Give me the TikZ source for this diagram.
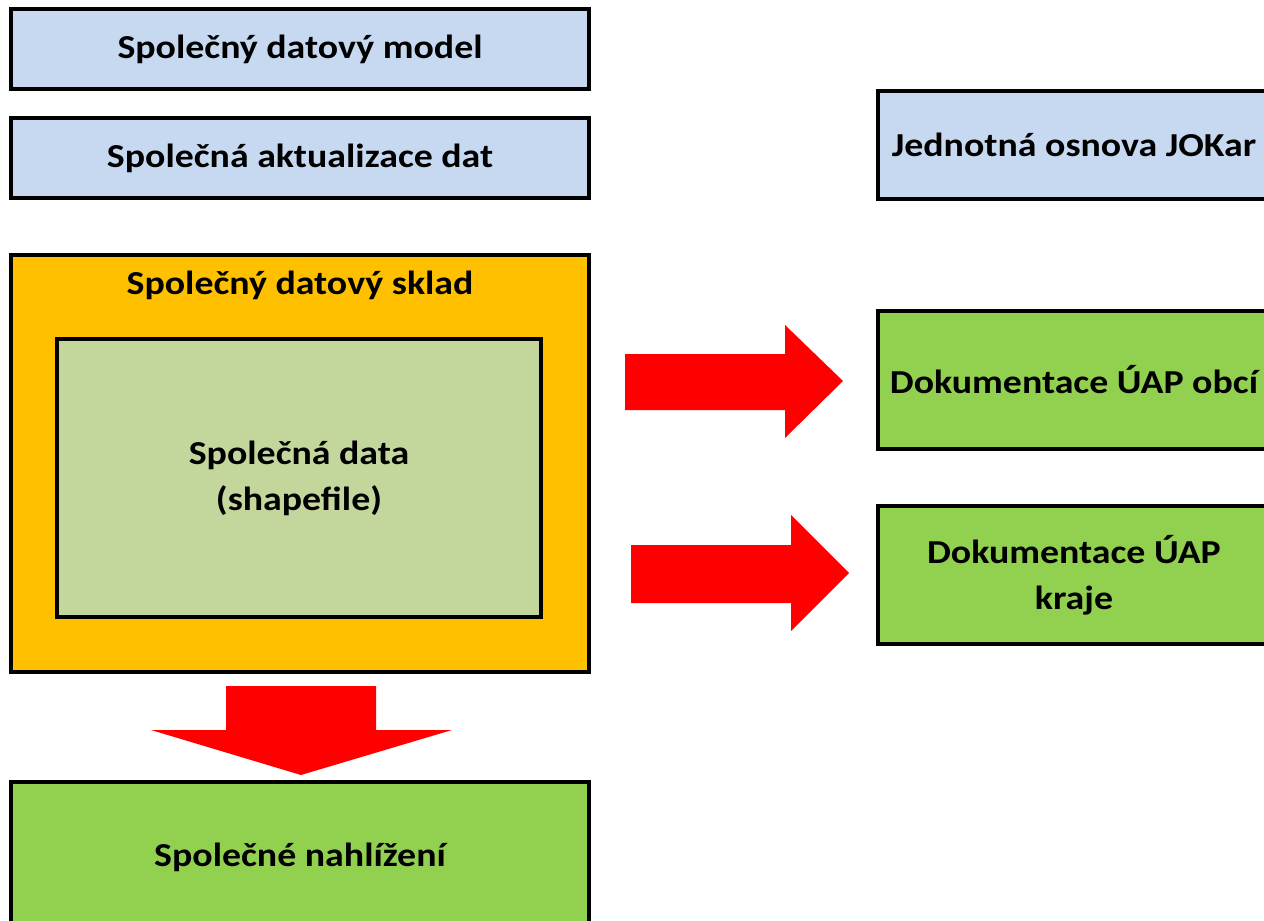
\documentclass[tikz,border=0pt]{standalone}
\usepackage{fontspec}
\setmainfont{Carlito}[FakeStretch=1.13]
\definecolor{cblue}{HTML}{C6D9F1}
\definecolor{corange}{HTML}{FFC000}
\definecolor{cinner}{HTML}{C3D69B}
\definecolor{cgreen}{HTML}{92D050}
\definecolor{cred}{HTML}{FF0000}
\begin{document}
\begin{tikzpicture}[x=1pt,y=-1pt,
  boxstyle/.style={draw=black, line width=4pt, inner sep=0pt, align=center,
    font=\bfseries\fontsize{33.5}{46}\selectfont},
  labelstyle/.style={inner sep=0pt, align=center, font=\bfseries\fontsize{33.5}{46}\selectfont},
  bigarrow/.style={fill=cred, draw=none}]
\useasboundingbox (0,0) rectangle (1264,921);
\clip (0,0) rectangle (1264,921);
\fill[white] (0,0) rectangle (1264,921);
% top-left blue boxes
\node[boxstyle, fill=cblue, minimum width=578pt, minimum height=80pt] (model) at (300,49) {Společný datový model};
\node[boxstyle, fill=cblue, minimum width=578pt, minimum height=80pt] (aktual) at (300,158) {Společná aktualizace dat};
% JOKar
\node[boxstyle, fill=cblue, minimum width=392pt, minimum height=108pt] (jokar) at (1074,145) {Jednotná osnova JOKar};
% data store
\node[boxstyle, fill=corange, minimum width=578pt, minimum height=417pt] (sklad) at (300,463.5) {};
\node[labelstyle] (skladlabel) at (300,285) {Společný datový sklad};
\node[boxstyle, fill=cinner, minimum width=484pt, minimum height=278pt] (data) at (299,478) {Společná data\\(shapefile)};
% right green boxes
\node[boxstyle, fill=cgreen, minimum width=392pt, minimum height=138pt] (obce) at (1074,380) {Dokumentace ÚAP obcí};
\node[boxstyle, fill=cgreen, minimum width=392pt, minimum height=138pt] (kraje) at (1074,575) {Dokumentace ÚAP\\kraje};
% bottom green box
\node[boxstyle, fill=cgreen, minimum width=578pt, minimum height=150pt] (nahl) at (300,857) {Společné nahlížení};
% block arrows
\fill[bigarrow] (625,354) -- (785,354) -- (785,325) -- (843,381) -- (785,438) -- (785,410) -- (625,410) -- cycle;
\fill[bigarrow] (631,545) -- (791,545) -- (791,515) -- (849,573) -- (791,631) -- (791,603) -- (631,603) -- cycle;
\fill[bigarrow] (226,686) -- (376,686) -- (376,730) -- (452,730) -- (301,775) -- (151,730) -- (226,730) -- cycle;
\end{tikzpicture}
\end{document}
